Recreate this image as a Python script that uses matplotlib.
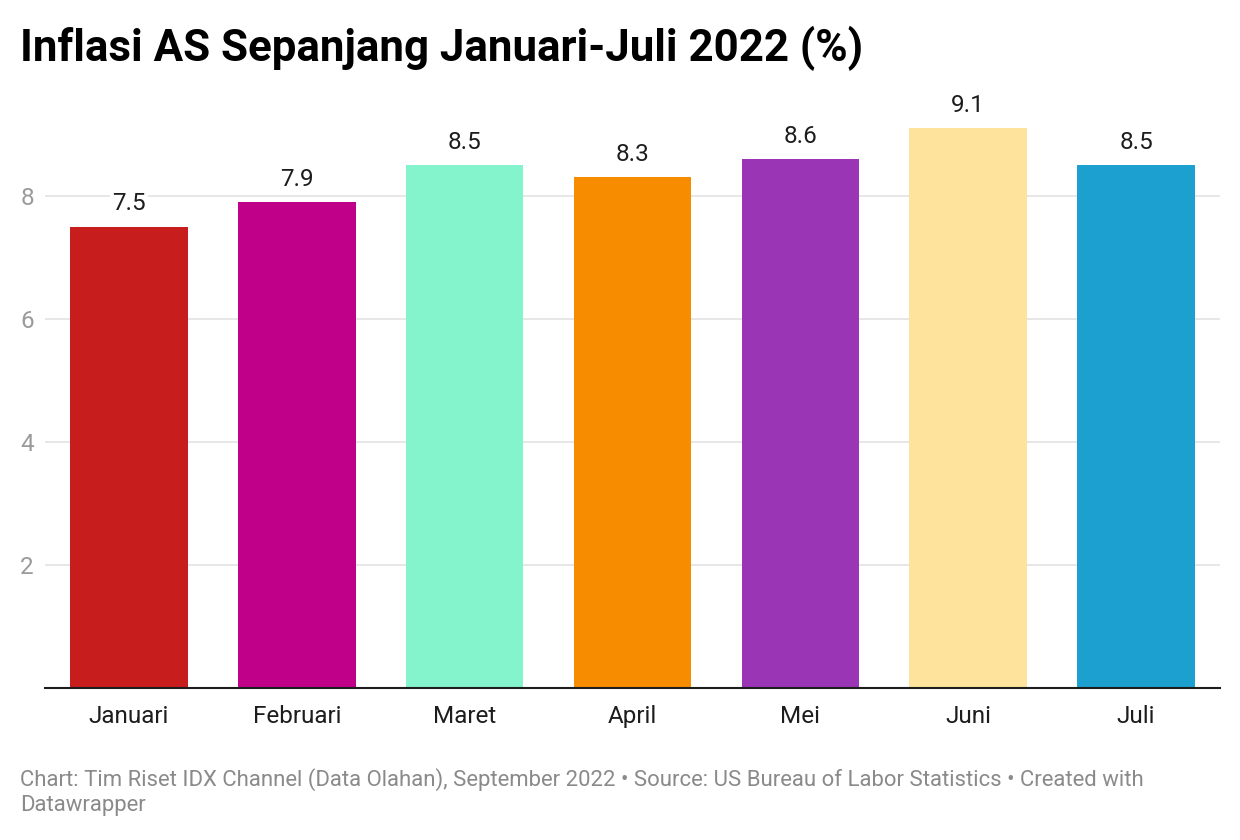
import matplotlib
matplotlib.use("Agg")
import matplotlib.pyplot as plt

categories = ["Januari", "Februari", "Maret", "April", "Mei", "Juni", "Juli"]
values = [7.5, 7.9, 8.5, 8.3, 8.6, 9.1, 8.5]
colors = ["#c71e1d", "#c1008a", "#83f4cc", "#f88c00", "#9a35b6", "#fde39b", "#1ba0cf"]
yticks = [2, 4, 6, 8]

plt.rcParams['font.family'] = ['Roboto', 'DejaVu Sans']

fig = plt.figure(figsize=(12.4, 8.4), dpi=100)
ax = fig.add_axes([45/1240, 1-688/840, 1175/1240, (688-85)/840])

x = list(range(len(categories)))
bars = ax.bar(x, values, width=0.70, color=colors, zorder=2)
ax.set_xlim(-0.5, len(categories)-0.5)
ax.set_ylim(0, 9.8)

for xi, v in zip(x, values):
    ax.annotate(f"{v:.1f}", (xi, v), xytext=(0, 8), textcoords="offset points",
                ha="center", va="bottom", fontsize=17.5, color="#1d1d1d", zorder=4,
                bbox=dict(facecolor="white", edgecolor="none", pad=1.5))

ax.set_yticks(yticks)
ax.set_yticklabels([str(t) for t in yticks])
ax.yaxis.grid(True, color="#e3e3e3", linewidth=1.2, zorder=0)
ax.set_axisbelow(True)
ax.tick_params(axis="y", length=0, labelsize=17.5, labelcolor="#9a9a9a", pad=8)
ax.set_xticks(x)
ax.set_xticklabels(categories)
ax.tick_params(axis="x", length=0, labelsize=17.5, labelcolor="#1d1d1d", pad=12)
for s in ["top", "right", "left"]:
    ax.spines[s].set_visible(False)
ax.spines["bottom"].set_color("#1d1d1d")
ax.spines["bottom"].set_linewidth(1.5)
ax.spines["bottom"].set_zorder(3)

fig.text(20/1240, 1-48/840, "Inflasi AS Sepanjang Januari-Juli 2022 (%)", fontsize=31.6,
         fontweight="bold", color="#000000", ha="left", va="center")
fig.text(20/1240, 1-780/840,
         "Chart: Tim Riset IDX Channel (Data Olahan), September 2022 \u2022 Source: US Bureau of Labor Statistics \u2022 Created with",
         fontsize=15.9, color="#8a8a8a", ha="left", va="center")
fig.text(20/1240, 1-806/840, "Datawrapper", fontsize=15.9, color="#8a8a8a", ha="left", va="center")

fig.savefig("out.png", dpi=100, facecolor="white")
